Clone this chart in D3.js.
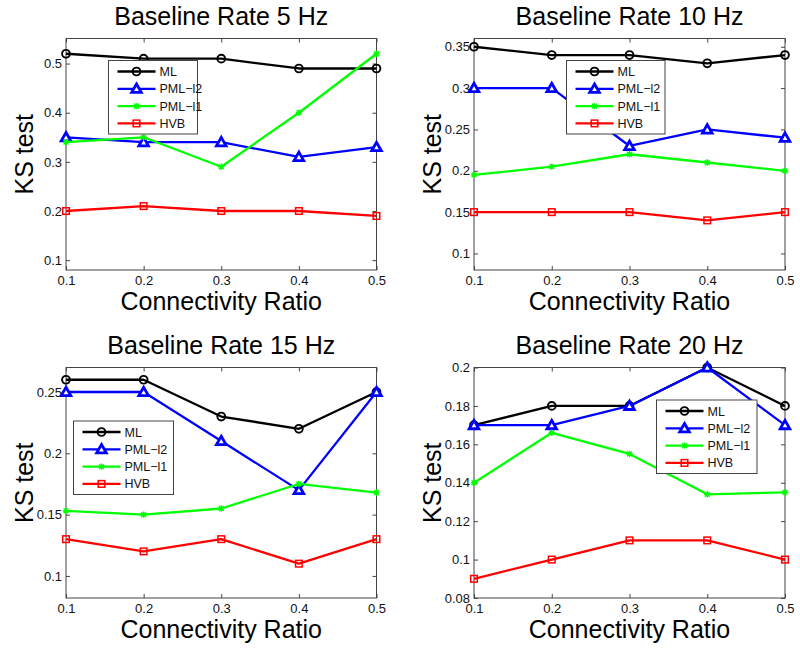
<!DOCTYPE html>
<html>
<head>
<meta charset="utf-8">
<script src="https://cdn.jsdelivr.net/npm/d3@7"></script>
<style>
  body { margin: 0; background: #fff; }
  svg { display: block; font-family: "Liberation Sans", Arial, Helvetica, sans-serif; }
</style>
</head>
<body>
<div id="chart"></div>
<script>
// x values shared by all four panels
const ratios = [0.1, 0.2, 0.3, 0.4, 0.5];
const xTicks = [0.1, 0.2, 0.3, 0.4, 0.5];

const titles = ['Baseline Rate 5 Hz', 'Baseline Rate 10 Hz', 'Baseline Rate 15 Hz', 'Baseline Rate 20 Hz'];
const seriesNames = ['ML', 'PML\u2212l2', 'PML\u2212l1', 'HVB'];

// one row per panel (5, 10, 15, 20 Hz)
const mlValues = [
  [0.52, 0.51, 0.51, 0.49, 0.49],
  [0.35, 0.34, 0.34, 0.33, 0.34],
  [0.26, 0.26, 0.23, 0.22, 0.25],
  [0.17, 0.18, 0.18, 0.20, 0.18]
];
const pmlL2Values = [
  [0.35, 0.34, 0.34, 0.31, 0.33],
  [0.30, 0.30, 0.23, 0.25, 0.24],
  [0.25, 0.25, 0.21, 0.17, 0.25],
  [0.17, 0.17, 0.18, 0.20, 0.17]
];
const pmlL1Values = [
  [0.34, 0.35, 0.29, 0.40, 0.52],
  [0.195, 0.205, 0.22, 0.21, 0.20],
  [0.153, 0.15, 0.155, 0.175, 0.168],
  [0.14, 0.166, 0.155, 0.134, 0.135]
];
const hvbValues = [
  [0.20, 0.21, 0.20, 0.20, 0.19],
  [0.15, 0.15, 0.15, 0.14, 0.15],
  [0.13, 0.12, 0.13, 0.11, 0.13],
  [0.09, 0.10, 0.11, 0.11, 0.10]
];

const yDomains = [[0.08, 0.551], [0.08, 0.36], [0.082, 0.27], [0.08, 0.2]];
const yTicks = [
  [0.1, 0.2, 0.3, 0.4, 0.5],
  [0.1, 0.15, 0.2, 0.25, 0.3, 0.35],
  [0.1, 0.15, 0.2, 0.25],
  [0.08, 0.1, 0.12, 0.14, 0.16, 0.18, 0.2]
];

// layout of each axes box and its legend
const panels = [
  { left: 66, top: 38.5, width: 310.5, height: 231.5, legend: { x: 108.5, y: 60.5, w: 89, h: 73.5 } },
  { left: 474, top: 38.5, width: 311, height: 231.5, legend: { x: 566.5, y: 60.5, w: 98.5, h: 73.5 } },
  { left: 66, top: 367.5, width: 310.5, height: 230.5, legend: { x: 73.5, y: 421, w: 100, h: 73.5 } },
  { left: 474, top: 367.5, width: 311, height: 230.5, legend: { x: 656.5, y: 400, w: 100.5, h: 73.5 } }
];

const colors = ['#000000', '#0000ff', '#00ff00', '#ff0000'];
const markers = ['circle', 'triangle', 'star', 'square'];

const svg = d3.select('#chart').append('svg')
  .attr('width', 800)
  .attr('height', 652);

const drawMarker = (g, type, color, cx, cy) => {
  if (type === 'circle') {
    g.append('circle').attr('cx', cx).attr('cy', cy).attr('r', 3.9)
      .attr('fill', 'none').attr('stroke', color).attr('stroke-width', 1.9);
  } else if (type === 'triangle') {
    g.append('path')
      .attr('d', `M${cx},${cy - 4.8}L${cx + 4.8},${cy + 3.6}L${cx - 4.8},${cy + 3.6}Z`)
      .attr('fill', '#fff').attr('stroke', color).attr('stroke-width', 2.8)
      .attr('stroke-linejoin', 'miter');
  } else if (type === 'square') {
    g.append('rect').attr('x', cx - 3.3).attr('y', cy - 3.3).attr('width', 6.6).attr('height', 6.6)
      .attr('fill', 'none').attr('stroke', color).attr('stroke-width', 1.5);
  } else {
    const s = 3.2;
    g.append('path')
      .attr('d', `M${cx - s},${cy}H${cx + s}M${cx},${cy - s}V${cy + s}M${cx - s * 0.75},${cy - s * 0.75}L${cx + s * 0.75},${cy + s * 0.75}M${cx - s * 0.75},${cy + s * 0.75}L${cx + s * 0.75},${cy - s * 0.75}`)
      .attr('stroke', color).attr('stroke-width', 1.4).attr('fill', 'none');
  }
};

panels.forEach((p, i) => {
  const x = d3.scaleLinear().domain([0.1, 0.5]).range([p.left, p.left + p.width]);
  const y = d3.scaleLinear().domain(yDomains[i]).range([p.top + p.height, p.top]);
  const fmt = (d) => String(+d.toFixed(2));

  // axes with inward ticks on all four sides (matlab style)
  svg.append('g')
    .attr('transform', `translate(${p.left},0)`)
    .call(d3.axisLeft(y).tickValues(yTicks[i]).tickSize(-4).tickPadding(4).tickFormat(fmt))
    .call((g) => g.select('.domain').remove())
    .call((g) => g.selectAll('.tick text').attr('font-size', 13).attr('fill', '#111').attr('font-family', null));
  svg.append('g')
    .attr('transform', `translate(${p.left + p.width},0)`)
    .call(d3.axisRight(y).tickValues(yTicks[i]).tickSize(-4).tickFormat(''))
    .call((g) => g.select('.domain').remove());
  svg.append('g')
    .attr('transform', `translate(0,${p.top + p.height})`)
    .call(d3.axisBottom(x).tickValues(xTicks).tickSize(-4).tickPadding(6).tickFormat(fmt))
    .call((g) => g.select('.domain').remove())
    .call((g) => g.selectAll('.tick text').attr('font-size', 13).attr('fill', '#111').attr('font-family', null));
  svg.append('g')
    .attr('transform', `translate(0,${p.top})`)
    .call(d3.axisTop(x).tickValues(xTicks).tickSize(-4).tickFormat(''))
    .call((g) => g.select('.domain').remove());
  svg.selectAll('.tick line').attr('stroke', '#444');

  svg.append('rect')
    .attr('x', p.left).attr('y', p.top)
    .attr('width', p.width).attr('height', p.height)
    .attr('fill', 'none').attr('stroke', '#444').attr('stroke-width', 1);

  // titles and axis labels
  svg.append('text')
    .attr('x', p.left + p.width / 2).attr('y', p.top - 13.5)
    .attr('text-anchor', 'middle').attr('font-size', 25)
    .text(titles[i]);
  svg.append('text')
    .attr('x', p.left + p.width / 2).attr('y', p.top + p.height + 40)
    .attr('text-anchor', 'middle').attr('font-size', 25)
    .text('Connectivity Ratio');
  svg.append('text')
    .attr('transform', `translate(${p.left - 33},${p.top + p.height / 2}) rotate(-90)`)
    .attr('text-anchor', 'middle').attr('font-size', 25)
    .text('KS test');

  const allSeries = [mlValues[i], pmlL2Values[i], pmlL1Values[i], hvbValues[i]];
  const line = d3.line().x((d, j) => x(ratios[j])).y((d) => y(d));

  allSeries.forEach((vals, k) => {
    const g = svg.append('g');
    g.append('path')
      .datum(vals)
      .attr('d', line)
      .attr('fill', 'none')
      .attr('stroke', colors[k])
      .attr('stroke-width', 2.3)
      .attr('stroke-linejoin', 'round');
    vals.forEach((v, j) => drawMarker(g, markers[k], colors[k], x(ratios[j]), y(v)));
  });

  // legend
  const L = p.legend;
  const lg = svg.append('g');
  lg.append('rect')
    .attr('x', L.x).attr('y', L.y).attr('width', L.w).attr('height', L.h)
    .attr('fill', '#fff').attr('stroke', '#444').attr('stroke-width', 1);
  seriesNames.forEach((name, k) => {
    const cy = L.y + 11 + k * 17.3;
    const x0 = L.x + 9, x1 = L.x + 47;
    lg.append('line')
      .attr('x1', x0).attr('x2', x1).attr('y1', cy).attr('y2', cy)
      .attr('stroke', colors[k]).attr('stroke-width', 2.3);
    drawMarker(lg, markers[k], colors[k], (x0 + x1) / 2, cy);
    lg.append('text')
      .attr('x', x1 + 4).attr('y', cy + 4.5)
      .attr('font-size', 12.5).attr('fill', '#111')
      .text(name);
  });
});
</script>
</body>
</html>
